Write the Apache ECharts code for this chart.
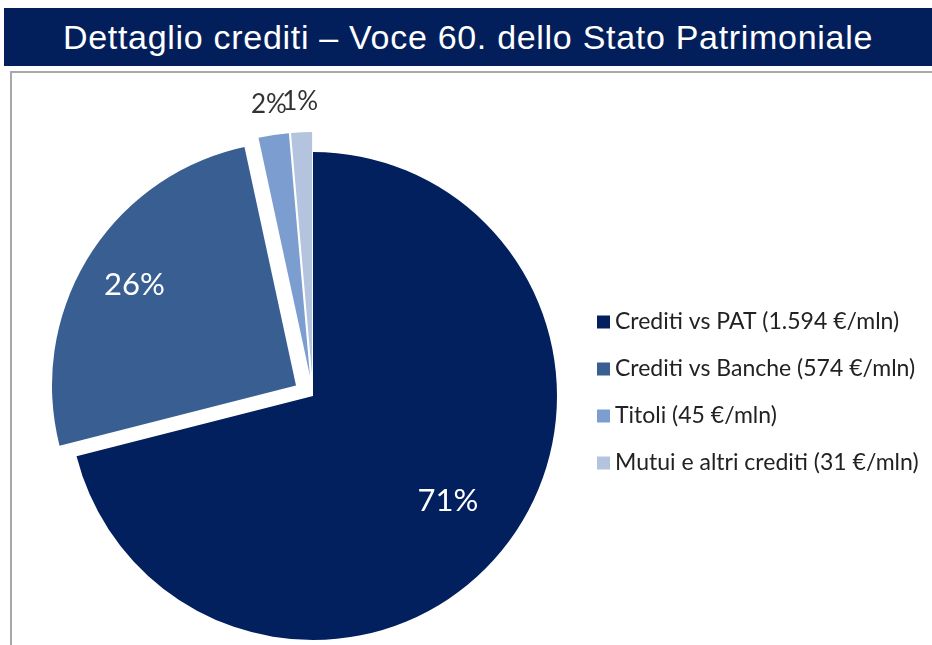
<!DOCTYPE html>
<html>
<head>
<meta charset="utf-8">
<script src="https://cdn.jsdelivr.net/npm/echarts@6/dist/echarts.min.js"></script>
<style>
  html, body {
    margin: 0;
    padding: 0;
    background: #ffffff;
  }
  .page {
    position: relative;
    width: 932px;
    height: 645px;
    overflow: hidden;
  }
  .title-bar {
    position: absolute;
    left: 4px;
    top: 8px;
    width: 928px;
    height: 58px;
    background: #021f5c;
    color: #ffffff;
    font-family: "Liberation Sans", Arial, sans-serif;
    font-size: 34px;
    letter-spacing: 0.7px;
    line-height: 58px;
    text-align: center;
    white-space: nowrap;
  }
  .chart-box {
    position: absolute;
    left: 10px;
    top: 71px;
    width: 940px;
    height: 600px;
    border-top: 2px solid #a8a8a8;
    border-left: 2px solid #a8a8a8;
  }
  #chart {
    position: absolute;
    left: 0;
    top: 0;
    width: 932px;
    height: 645px;
  }
</style>
</head>
<body>
<div class="page">
  <div class="title-bar">Dettaglio crediti – Voce 60. dello Stato Patrimoniale</div>
  <div class="chart-box"></div>
  <div id="chart"></div>
</div>
<script>
// dati
const categories = [
  "Crediti vs PAT (1.594 €/mln)",
  "Crediti vs Banche (574 €/mln)",
  "Titoli (45 €/mln)",
  "Mutui e altri crediti (31 €/mln)"
];
const values = [1594, 574, 45, 31];
const colors = ["#021f5e", "#385e92", "#7c9dcf", "#b4c4df"];

const center = [313, 396];
const R = 244;
const font = "Lato, 'Open Sans', sans-serif";

const pieData = categories.map((name, i) => ({
  name: name,
  value: values[i],
  selected: i > 0,
  itemStyle: { color: colors[i] }
}));

// serie trasparente che porta solo l'etichetta di una fetta
const labelRing = (radius, idx, color, size) => ({
  type: "pie",
  z: 5,
  center: center,
  radius: radius,
  startAngle: 90,
  silent: true,
  selectedMode: "multiple",
  selectedOffset: 20,
  percentPrecision: 0,
  avoidLabelOverlap: false,
  labelLayout: { hideOverlap: false },
  emphasis: { disabled: true },
  labelLine: { show: false },
  label: {
    show: true,
    position: "inside",
    formatter: (p) => (p.dataIndex === idx ? p.percent + "%" : ""),
    color: color,
    fontFamily: font,
    fontSize: size
  },
  data: categories.map((name, i) => ({
    name: name,
    value: values[i],
    selected: i > 0,
    itemStyle: { color: "rgba(0,0,0,0)" }
  }))
});

const chart = echarts.init(document.getElementById("chart"));

chart.setOption({
  animation: false,
  legend: {
    orient: "vertical",
    left: 592,
    top: 304,
    icon: "rect",
    itemWidth: 13,
    itemHeight: 13,
    itemGap: 21,
    selectedMode: false,
    data: categories,
    textStyle: {
      color: "#222222",
      fontFamily: font,
      fontSize: 23,
      lineHeight: 26
    }
  },
  series: [
    {
      type: "pie",
      center: center,
      radius: R,
      startAngle: 90,
      selectedMode: "multiple",
      selectedOffset: 20,
      percentPrecision: 0,
      label: { show: false },
      labelLine: { show: false },
      emphasis: { scale: false },
      data: pieData
    },
    labelRing([92, R], 0, "#ffffff", 31),
    labelRing([130, R], 1, "#ffffff", 31),
    labelRing([R + 18, R + 38], 2, "#333333", 26),
    labelRing([R + 18, R + 38], 3, "#333333", 26)
  ]
});
</script>
</body>
</html>
